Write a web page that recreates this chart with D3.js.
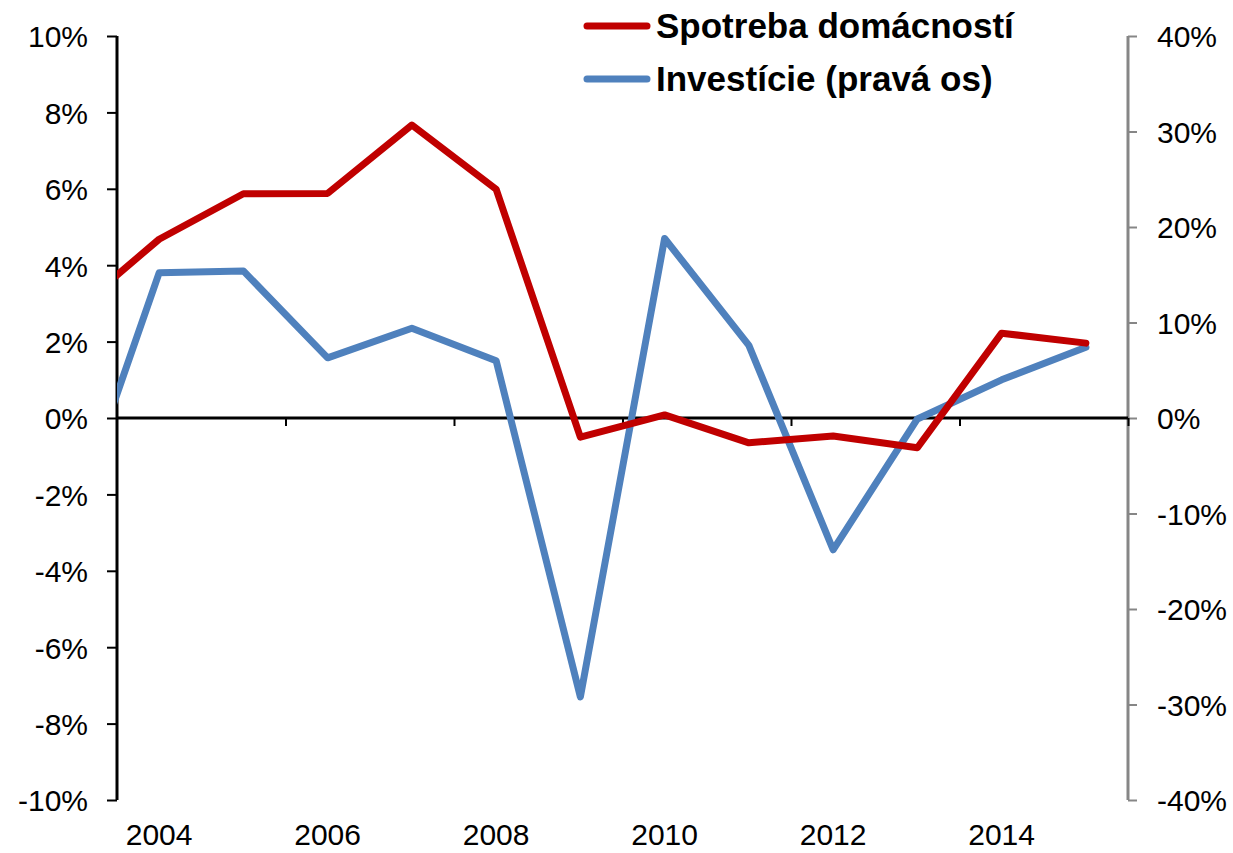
<!DOCTYPE html>
<html>
<head>
<meta charset="utf-8">
<script src="https://cdn.jsdelivr.net/npm/d3@7"></script>
<style>
  body { margin: 0; background: #fff; }
  text { font-family: "Liberation Sans", Arial, sans-serif; }
</style>
</head>
<body>
<svg id="chart"></svg>
<script>
// years of the series (2003 lies left of the visible range and gets clipped)
const years = [2003, 2004, 2005, 2006, 2007, 2008, 2009, 2010, 2011, 2012, 2013, 2014, 2015];

// household consumption, % y/y (left axis)
const consumption = [2.8, 4.68, 5.87, 5.88, 7.67, 5.99, -0.5, 0.08, -0.65, -0.47, -0.78, 2.22, 1.96];

// investment, % y/y (right axis)
const investment = [-10.2, 15.2, 15.4, 6.3, 9.4, 6.0, -29.2, 18.8, 7.6, -13.8, -0.1, 4.0, 7.4];

const leftTicks = [-10, -8, -6, -4, -2, 0, 2, 4, 6, 8, 10];
const rightTicks = [-40, -30, -20, -10, 0, 10, 20, 30, 40];
const yearLabels = [2004, 2006, 2008, 2010, 2012, 2014];
const yearTicks = [2005.5, 2007.5, 2009.5, 2011.5, 2013.5, 2015.5];

const seriesNames = ['Spotreba domácností', 'Investície (pravá os)'];
const seriesColors = ['#C00000', '#4F81BD'];

const dim = { width: 1233, height: 853, left: 117, right: 1128, top: 36, bottom: 800 };

const svg = d3.select('#chart')
  .attr('width', dim.width)
  .attr('height', dim.height);

// scales
const x = d3.scaleLinear().domain([2003.5, 2015.5]).range([dim.left, dim.right]);
const yLeft = d3.scaleLinear().domain([-10, 10]).range([dim.bottom, dim.top]);
const yRight = d3.scaleLinear().domain([-40, 40]).range([dim.bottom, dim.top]);

const fmt = d => `${d}%`;

// left axis
const leftAxis = svg.append('g')
  .attr('transform', `translate(${dim.left},0)`)
  .call(d3.axisLeft(yLeft).tickValues(leftTicks).tickFormat(fmt).tickSize(10).tickPadding(19));
leftAxis.select('.domain').attr('stroke', '#000').attr('stroke-width', 3).attr('d', `M0,${dim.top}V${dim.bottom}`);
leftAxis.selectAll('.tick line').attr('stroke', '#000').attr('stroke-width', 2);
leftAxis.selectAll('.tick text')
  .attr('font-size', 30)
  .attr('fill', '#000')
  .attr('dy', '0.36em');

// right axis
const rightAxis = svg.append('g')
  .attr('transform', `translate(${dim.right},0)`)
  .call(d3.axisRight(yRight).tickValues(rightTicks).tickFormat(fmt).tickSize(9).tickPadding(20));
rightAxis.select('.domain').attr('stroke', '#868686').attr('stroke-width', 3).attr('d', `M0,${dim.top}V${dim.bottom}`);
rightAxis.selectAll('.tick line').attr('stroke', '#868686').attr('stroke-width', 2);
rightAxis.selectAll('.tick text')
  .attr('font-size', 30)
  .attr('fill', '#000')
  .attr('dy', '0.36em');

// horizontal axis along the zero line
const xAxis = svg.append('g')
  .attr('transform', `translate(0,${yLeft(0)})`)
  .call(d3.axisBottom(x).tickValues(yearTicks).tickFormat('').tickSize(8));
xAxis.select('.domain').attr('stroke', '#000').attr('stroke-width', 3).attr('d', `M${dim.left},0H${dim.right}`);
xAxis.selectAll('.tick line').attr('stroke', '#000').attr('stroke-width', 2);

// year labels below the plot
svg.append('g')
  .selectAll('text')
  .data(yearLabels)
  .join('text')
  .attr('x', d => x(d))
  .attr('y', 845)
  .attr('text-anchor', 'middle')
  .attr('font-size', 30)
  .attr('fill', '#000')
  .text(d => d);

// clip lines to the plot area
svg.append('clipPath')
  .attr('id', 'plot-clip')
  .append('rect')
  .attr('x', dim.left)
  .attr('y', 0)
  .attr('width', dim.right - dim.left + 10)
  .attr('height', dim.height);

const lineLeft = d3.line().x((d, i) => x(years[i])).y(d => yLeft(d));
const lineRight = d3.line().x((d, i) => x(years[i])).y(d => yRight(d));

svg.append('path')
  .attr('clip-path', 'url(#plot-clip)')
  .attr('d', lineRight(investment))
  .attr('fill', 'none')
  .attr('stroke', seriesColors[1])
  .attr('stroke-width', 7)
  .attr('stroke-linejoin', 'round')
  .attr('stroke-linecap', 'round');

svg.append('path')
  .attr('clip-path', 'url(#plot-clip)')
  .attr('d', lineLeft(consumption))
  .attr('fill', 'none')
  .attr('stroke', seriesColors[0])
  .attr('stroke-width', 7)
  .attr('stroke-linejoin', 'round')
  .attr('stroke-linecap', 'round');

// legend in the top area
const legend = svg.append('g');
seriesNames.forEach((name, i) => {
  const ly = 26 + 53 * i;
  legend.append('line')
    .attr('x1', 587)
    .attr('x2', 647)
    .attr('y1', ly)
    .attr('y2', ly)
    .attr('stroke', seriesColors[i])
    .attr('stroke-width', 7)
    .attr('stroke-linecap', 'round');
  legend.append('text')
    .attr('x', 656)
    .attr('y', ly + 12)
    .attr('font-size', 35)
    .attr('font-weight', 'bold')
    .attr('fill', '#000')
    .text(name);
});
</script>
</body>
</html>
